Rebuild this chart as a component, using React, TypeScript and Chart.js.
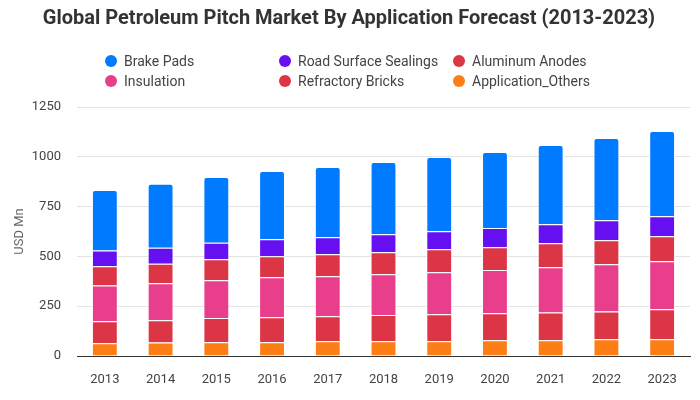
import React, { useEffect, useRef } from "react";
import { Chart, registerables } from "chart.js";

Chart.register(...registerables);

const years = ["2013", "2014", "2015", "2016", "2017", "2018", "2019", "2020", "2021", "2022", "2023"];
const applicationOthers = [64, 68, 69, 69, 74, 74, 74, 79, 79, 84, 84];
const refractoryBricks = [110, 112, 122, 125, 125, 132, 135, 135, 140, 140, 151];
const insulation = [180, 185, 189, 201, 201, 204, 211, 218, 227, 237, 241];
const aluminumAnodes = [96, 98, 106, 106, 111, 111, 116, 114, 120, 120, 125];
const roadSurfaceSealings = [80, 80, 82, 85, 85, 90, 90, 96, 96, 101, 101];
const brakePads = [303, 322, 331, 343, 353, 363, 373, 382, 397, 412, 427];
const yTicks = [0, 250, 500, 750, 1000, 1250];

const titleText = "Global Petroleum Pitch Market By Application Forecast (2013-2023)";
const legendOrder = ["Brake Pads", "Road Surface Sealings", "Aluminum Anodes", "Insulation", "Refractory Bricks", "Application_Others"];

const FONT = "Roboto";

const legendPlugin = {
  id: "gridLegend",
  afterDraw(chart: any) {
    const ctx = chart.ctx;
    const colX = [111, 285, 459];
    const rowY = [61, 81];
    ctx.save();
    ctx.font = `14px ${FONT}`;
    ctx.textBaseline = "middle";
    ctx.textAlign = "left";
    legendOrder.forEach((label, i) => {
      const ds = chart.data.datasets.find((d: any) => d.label === label);
      const cx = colX[i % 3];
      const cy = rowY[Math.floor(i / 3)];
      ctx.beginPath();
      ctx.fillStyle = ds.backgroundColor;
      ctx.arc(cx, cy, 6, 0, Math.PI * 2);
      ctx.fill();
      ctx.fillStyle = "#444";
      ctx.fillText(label, cx + 13, cy + 1);
    });
    ctx.restore();
  },
};

export default function App() {
  const ref = useRef<HTMLCanvasElement>(null);
  useEffect(() => {
    const mk = (label: string, data: number[], color: string, extra: any = {}) => ({
      label,
      data,
      backgroundColor: color,
      borderColor: "#ffffff",
      borderWidth: 1,
      barPercentage: 0.58,
      categoryPercentage: 0.8,
      ...extra,
    });
    const chart = new Chart(ref.current as HTMLCanvasElement, {
      type: "bar",
      data: {
        labels: years,
        datasets: [
          mk("Application_Others", applicationOthers, "#fd7e14"),
          mk("Refractory Bricks", refractoryBricks, "#dc3545"),
          mk("Insulation", insulation, "#e83e8c"),
          mk("Aluminum Anodes", aluminumAnodes, "#dc3545"),
          mk("Road Surface Sealings", roadSurfaceSealings, "#6610f2"),
          mk("Brake Pads", brakePads, "#007bff", { borderRadius: { topLeft: 3, topRight: 3, bottomLeft: 0, bottomRight: 0 } }),
        ],
      },
      options: {
        animation: false,
        responsive: false,
        layout: { padding: { left: 8, right: 10, top: 0, bottom: 0 } },
        plugins: {
          legend: { display: false },
          tooltip: { enabled: false },
          title: {
            display: true,
            text: titleText,
            color: "#333",
            font: { family: FONT, size: 20, weight: "bold" },
            padding: { top: 7, bottom: 76 },
          },
        },
        scales: {
          x: {
            stacked: true,
            grid: { display: false, drawTicks: false },
            border: { display: true, color: "#333", width: 1 },
            ticks: { color: "#444", font: { family: FONT, size: 13 }, padding: 16 },
            afterFit: (scale: any) => {
              scale.height = 44;
            },
          },
          y: {
            stacked: true,
            min: 0,
            max: 1250,
            afterBuildTicks: (scale: any) => {
              scale.ticks = yTicks.map((v) => ({ value: v }));
            },
            afterFit: (scale: any) => {
              scale.width = 69;
            },
            grid: { color: "#e3e3e3", drawTicks: false },
            border: { display: false },
            ticks: {
              color: "#444",
              font: { family: FONT, size: 13 },
              padding: 16,
              callback: (v: any) => String(v),
            },
            title: {
              display: true,
              text: "USD Mn",
              color: "#666",
              font: { family: FONT, size: 13 },
              padding: { top: 4, bottom: 4 },
            },
          },
        },
      },
      plugins: [legendPlugin],
    });
    return () => chart.destroy();
  }, []);
  return (
    <div style={{ position: "fixed", left: 0, top: 0, width: 700, height: 400, background: "#fff" }}>
      <canvas ref={ref} width={700} height={400} />
    </div>
  );
}
